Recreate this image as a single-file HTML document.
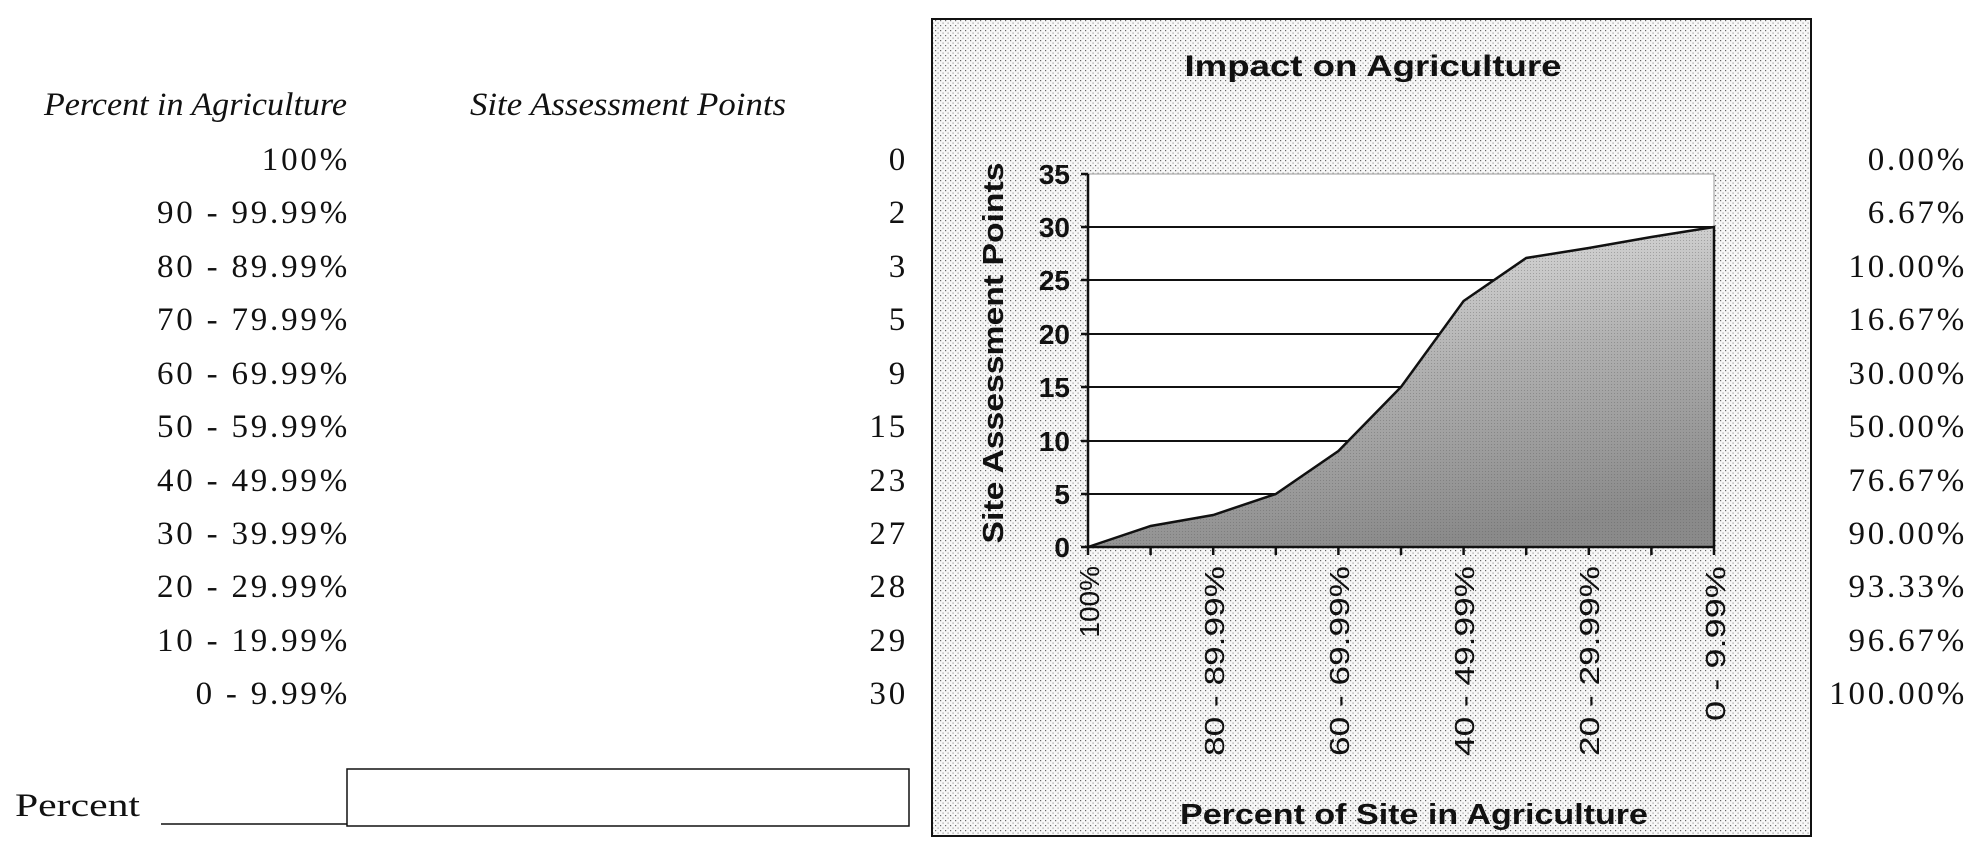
<!DOCTYPE html>
<html><head><meta charset="utf-8"><style>html,body{margin:0;padding:0;background:#fff;}svg{display:block}</style></head>
<body>
<svg width="1983" height="865" viewBox="0 0 1983 865" xmlns="http://www.w3.org/2000/svg">
<defs>
<pattern id="dots" width="5" height="5" patternUnits="userSpaceOnUse">
<rect width="5" height="5" fill="#f7f7f7"/>
<rect x="0" y="0" width="1.2" height="1.2" fill="#666"/>
<rect x="2.5" y="2.5" width="1.2" height="1.2" fill="#999"/>
</pattern>
<linearGradient id="ag" x1="0.2" y1="0" x2="0.5" y2="1">
<stop offset="0" stop-color="#e6e6e6"/>
<stop offset="0.5" stop-color="#b0b0b0"/>
<stop offset="1" stop-color="#8a8a8a"/>
</linearGradient>
<pattern id="adots" width="3" height="3" patternUnits="userSpaceOnUse">
<rect x="0" y="0" width="1" height="1" fill="#555" fill-opacity="0.35"/>
</pattern>
</defs>
<g font-family="'Liberation Serif', serif" font-size="33" fill="#111">
<text x="347" y="115" text-anchor="end" font-style="italic" textLength="303" lengthAdjust="spacingAndGlyphs">Percent in Agriculture</text>
<text x="470" y="115" font-style="italic" textLength="316" lengthAdjust="spacingAndGlyphs">Site Assessment Points</text>
<g text-anchor="end" letter-spacing="2.8">
<text x="350" y="170">100%</text>
<text x="350" y="223">90 - 99.99%</text>
<text x="350" y="277">80 - 89.99%</text>
<text x="350" y="330">70 - 79.99%</text>
<text x="350" y="384">60 - 69.99%</text>
<text x="350" y="437">50 - 59.99%</text>
<text x="350" y="491">40 - 49.99%</text>
<text x="350" y="544">30 - 39.99%</text>
<text x="350" y="597">20 - 29.99%</text>
<text x="350" y="651">10 - 19.99%</text>
<text x="350" y="704">0 - 9.99%</text>
<text x="908" y="170">0</text><text x="908" y="223">2</text><text x="908" y="277">3</text>
<text x="908" y="330">5</text><text x="908" y="384">9</text><text x="908" y="437">15</text>
<text x="908" y="491">23</text><text x="908" y="544">27</text><text x="908" y="597">28</text>
<text x="908" y="651">29</text><text x="908" y="704">30</text>
<text x="1967" y="170">0.00%</text><text x="1967" y="223">6.67%</text><text x="1967" y="277">10.00%</text>
<text x="1967" y="330">16.67%</text><text x="1967" y="384">30.00%</text><text x="1967" y="437">50.00%</text>
<text x="1967" y="491">76.67%</text><text x="1967" y="544">90.00%</text><text x="1967" y="597">93.33%</text>
<text x="1967" y="651">96.67%</text><text x="1967" y="704">100.00%</text>
</g>
<text x="15" y="816" textLength="125" lengthAdjust="spacingAndGlyphs">Percent</text>
</g>
<line x1="161" y1="824" x2="347" y2="824" stroke="#111" stroke-width="1.5"/>
<rect x="347" y="769" width="562" height="57" fill="#fff" stroke="#111" stroke-width="1.5"/>

<rect x="932" y="19" width="879" height="817" fill="url(#dots)" stroke="#111" stroke-width="2"/>
<rect x="1088" y="174" width="626" height="373" fill="#fff" stroke="#999" stroke-width="1"/>
<g stroke="#111" stroke-width="2">
<line x1="1088" y1="494" x2="1714" y2="494"/><line x1="1088" y1="441" x2="1714" y2="441"/>
<line x1="1088" y1="387" x2="1714" y2="387"/><line x1="1088" y1="334" x2="1714" y2="334"/>
<line x1="1088" y1="280" x2="1714" y2="280"/><line x1="1088" y1="227" x2="1714" y2="227"/>
</g>
<polygon points="1088,547 1150.6,526 1213.2,515 1275.8,494 1338.4,451 1401,387 1463.6,301 1526.2,258 1588.8,248 1651.4,237 1714,227 1714,547" fill="url(#ag)"/>
<polygon points="1088,547 1150.6,526 1213.2,515 1275.8,494 1338.4,451 1401,387 1463.6,301 1526.2,258 1588.8,248 1651.4,237 1714,227 1714,547" fill="url(#adots)"/>
<polyline points="1088,547 1150.6,526 1213.2,515 1275.8,494 1338.4,451 1401,387 1463.6,301 1526.2,258 1588.8,248 1651.4,237 1714,227 1714,547" fill="none" stroke="#111" stroke-width="2.5"/>
<g stroke="#111" stroke-width="2.5">
<line x1="1088" y1="174" x2="1088" y2="548"/>
<line x1="1081" y1="547" x2="1714" y2="547"/>
<line x1="1081" y1="174" x2="1088" y2="174"/><line x1="1081" y1="227" x2="1088" y2="227"/>
<line x1="1081" y1="280" x2="1088" y2="280"/><line x1="1081" y1="334" x2="1088" y2="334"/>
<line x1="1081" y1="387" x2="1088" y2="387"/><line x1="1081" y1="441" x2="1088" y2="441"/>
<line x1="1081" y1="494" x2="1088" y2="494"/>
<line x1="1088" y1="547" x2="1088" y2="555"/><line x1="1150.6" y1="547" x2="1150.6" y2="555"/>
<line x1="1213.2" y1="547" x2="1213.2" y2="555"/><line x1="1275.8" y1="547" x2="1275.8" y2="555"/>
<line x1="1338.4" y1="547" x2="1338.4" y2="555"/><line x1="1401" y1="547" x2="1401" y2="555"/>
<line x1="1463.6" y1="547" x2="1463.6" y2="555"/><line x1="1526.2" y1="547" x2="1526.2" y2="555"/>
<line x1="1588.8" y1="547" x2="1588.8" y2="555"/><line x1="1651.4" y1="547" x2="1651.4" y2="555"/>
<line x1="1714" y1="547" x2="1714" y2="555"/>
</g>
<g font-family="'Liberation Sans', Arial, sans-serif" fill="#111">
<text x="1373" y="76" text-anchor="middle" font-weight="bold" font-size="30" textLength="377" lengthAdjust="spacingAndGlyphs">Impact on Agriculture</text>
<text x="1414" y="824" text-anchor="middle" font-weight="bold" font-size="29" textLength="468" lengthAdjust="spacingAndGlyphs">Percent of Site in Agriculture</text>
<text transform="translate(1003,353) rotate(-90)" text-anchor="middle" font-weight="bold" font-size="29" textLength="381" lengthAdjust="spacingAndGlyphs">Site Assessment Points</text>
<g font-weight="bold" font-size="28" text-anchor="end">
<text x="1070" y="184">35</text><text x="1070" y="237">30</text><text x="1070" y="290">25</text>
<text x="1070" y="344">20</text><text x="1070" y="397">15</text><text x="1070" y="451">10</text>
<text x="1070" y="504">5</text><text x="1070" y="557">0</text>
</g>
<g font-size="28" text-anchor="end">
<text transform="translate(1099,566) rotate(-90)">100%</text>
<text transform="translate(1224,566) rotate(-90)" textLength="190" lengthAdjust="spacingAndGlyphs">80 - 89.99%</text>
<text transform="translate(1349,566) rotate(-90)" textLength="190" lengthAdjust="spacingAndGlyphs">60 - 69.99%</text>
<text transform="translate(1474,566) rotate(-90)" textLength="190" lengthAdjust="spacingAndGlyphs">40 - 49.99%</text>
<text transform="translate(1599,566) rotate(-90)" textLength="190" lengthAdjust="spacingAndGlyphs">20 - 29.99%</text>
<text transform="translate(1725,566) rotate(-90)" textLength="155" lengthAdjust="spacingAndGlyphs">0 - 9.99%</text>
</g>
</g>
</svg>
</body></html>
